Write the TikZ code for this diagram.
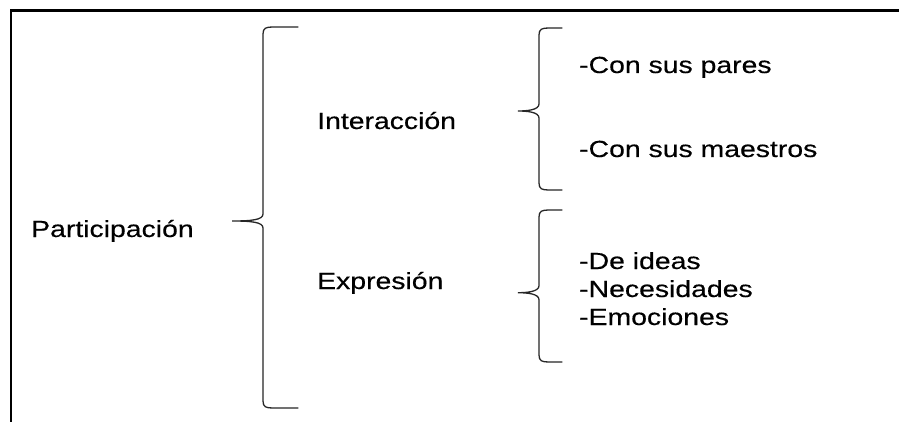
\documentclass[tikz,border=0pt]{standalone}
\usepackage{fontspec}
\setmainfont{Liberation Sans}[FakeBold=0.35]
\newfontfamily\heavyfont{Liberation Sans}[FakeBold=0.35]
\usepackage{graphicx}
\tikzset{
  frameline/.style={line width=2.2pt, black},
  bracestyle/.style={line width=1.3pt, black!85, line cap=round},
  label/.style={inner sep=0pt, anchor=base west, font=\heavyfont\fontsize{23.3}{28}\selectfont, text=black}
}
\newcommand{\wtext}[1]{\scalebox{1.218}[1]{#1}}
% #1 line x, #2 top y, #3 tip y, #4 bottom y, #5 tip x, #6 tail x
\newcommand{\drawbrace}[6]{%
  \draw[bracestyle] (#6,#2) -- (#1+10,#2)
    .. controls (#1+3,#2) and (#1,#2+1) .. (#1,#2+7)
    -- (#1,#3-7)
    .. controls (#1,#3-1) and (#1-12,#3) .. (#5,#3)
    .. controls (#1-12,#3) and (#1,#3+1) .. (#1,#3+7)
    -- (#1,#4-7)
    .. controls (#1,#4-1) and (#1+3,#4) .. (#1+10,#4)
    -- (#6,#4);}
\begin{document}
\begin{tikzpicture}[x=1pt,y=-1pt]
\useasboundingbox (0,0) rectangle (899,422);
\fill[white] (0,0) rectangle (899,422);
% frame (only top and left edges visible)
\draw[frameline] (11,422) -- (11,10.5) -- (899,10.5);
% braces
\drawbrace{263}{27}{221}{408}{232}{298}
\drawbrace{539}{28}{111}{190}{518}{562}
\drawbrace{539}{210}{292.7}{362}{518}{562}
% labels
\node[label] (part) at (31,237) {\wtext{Participación}};
\node[label] (inter) at (317,129) {\wtext{Interacción}};
\node[label] (expr) at (317,289) {\wtext{Expresión}};
\node[label] (pares) at (579,73) {\wtext{-Con sus pares}};
\node[label] (maestros) at (579,157) {\wtext{-Con sus maestros}};
\node[label] (ideas) at (579,269) {\wtext{-De ideas}};
\node[label] (neces) at (579,297) {\wtext{-Necesidades}};
\node[label] (emoc) at (579,325) {\wtext{-Emociones}};
\end{tikzpicture}
\end{document}
